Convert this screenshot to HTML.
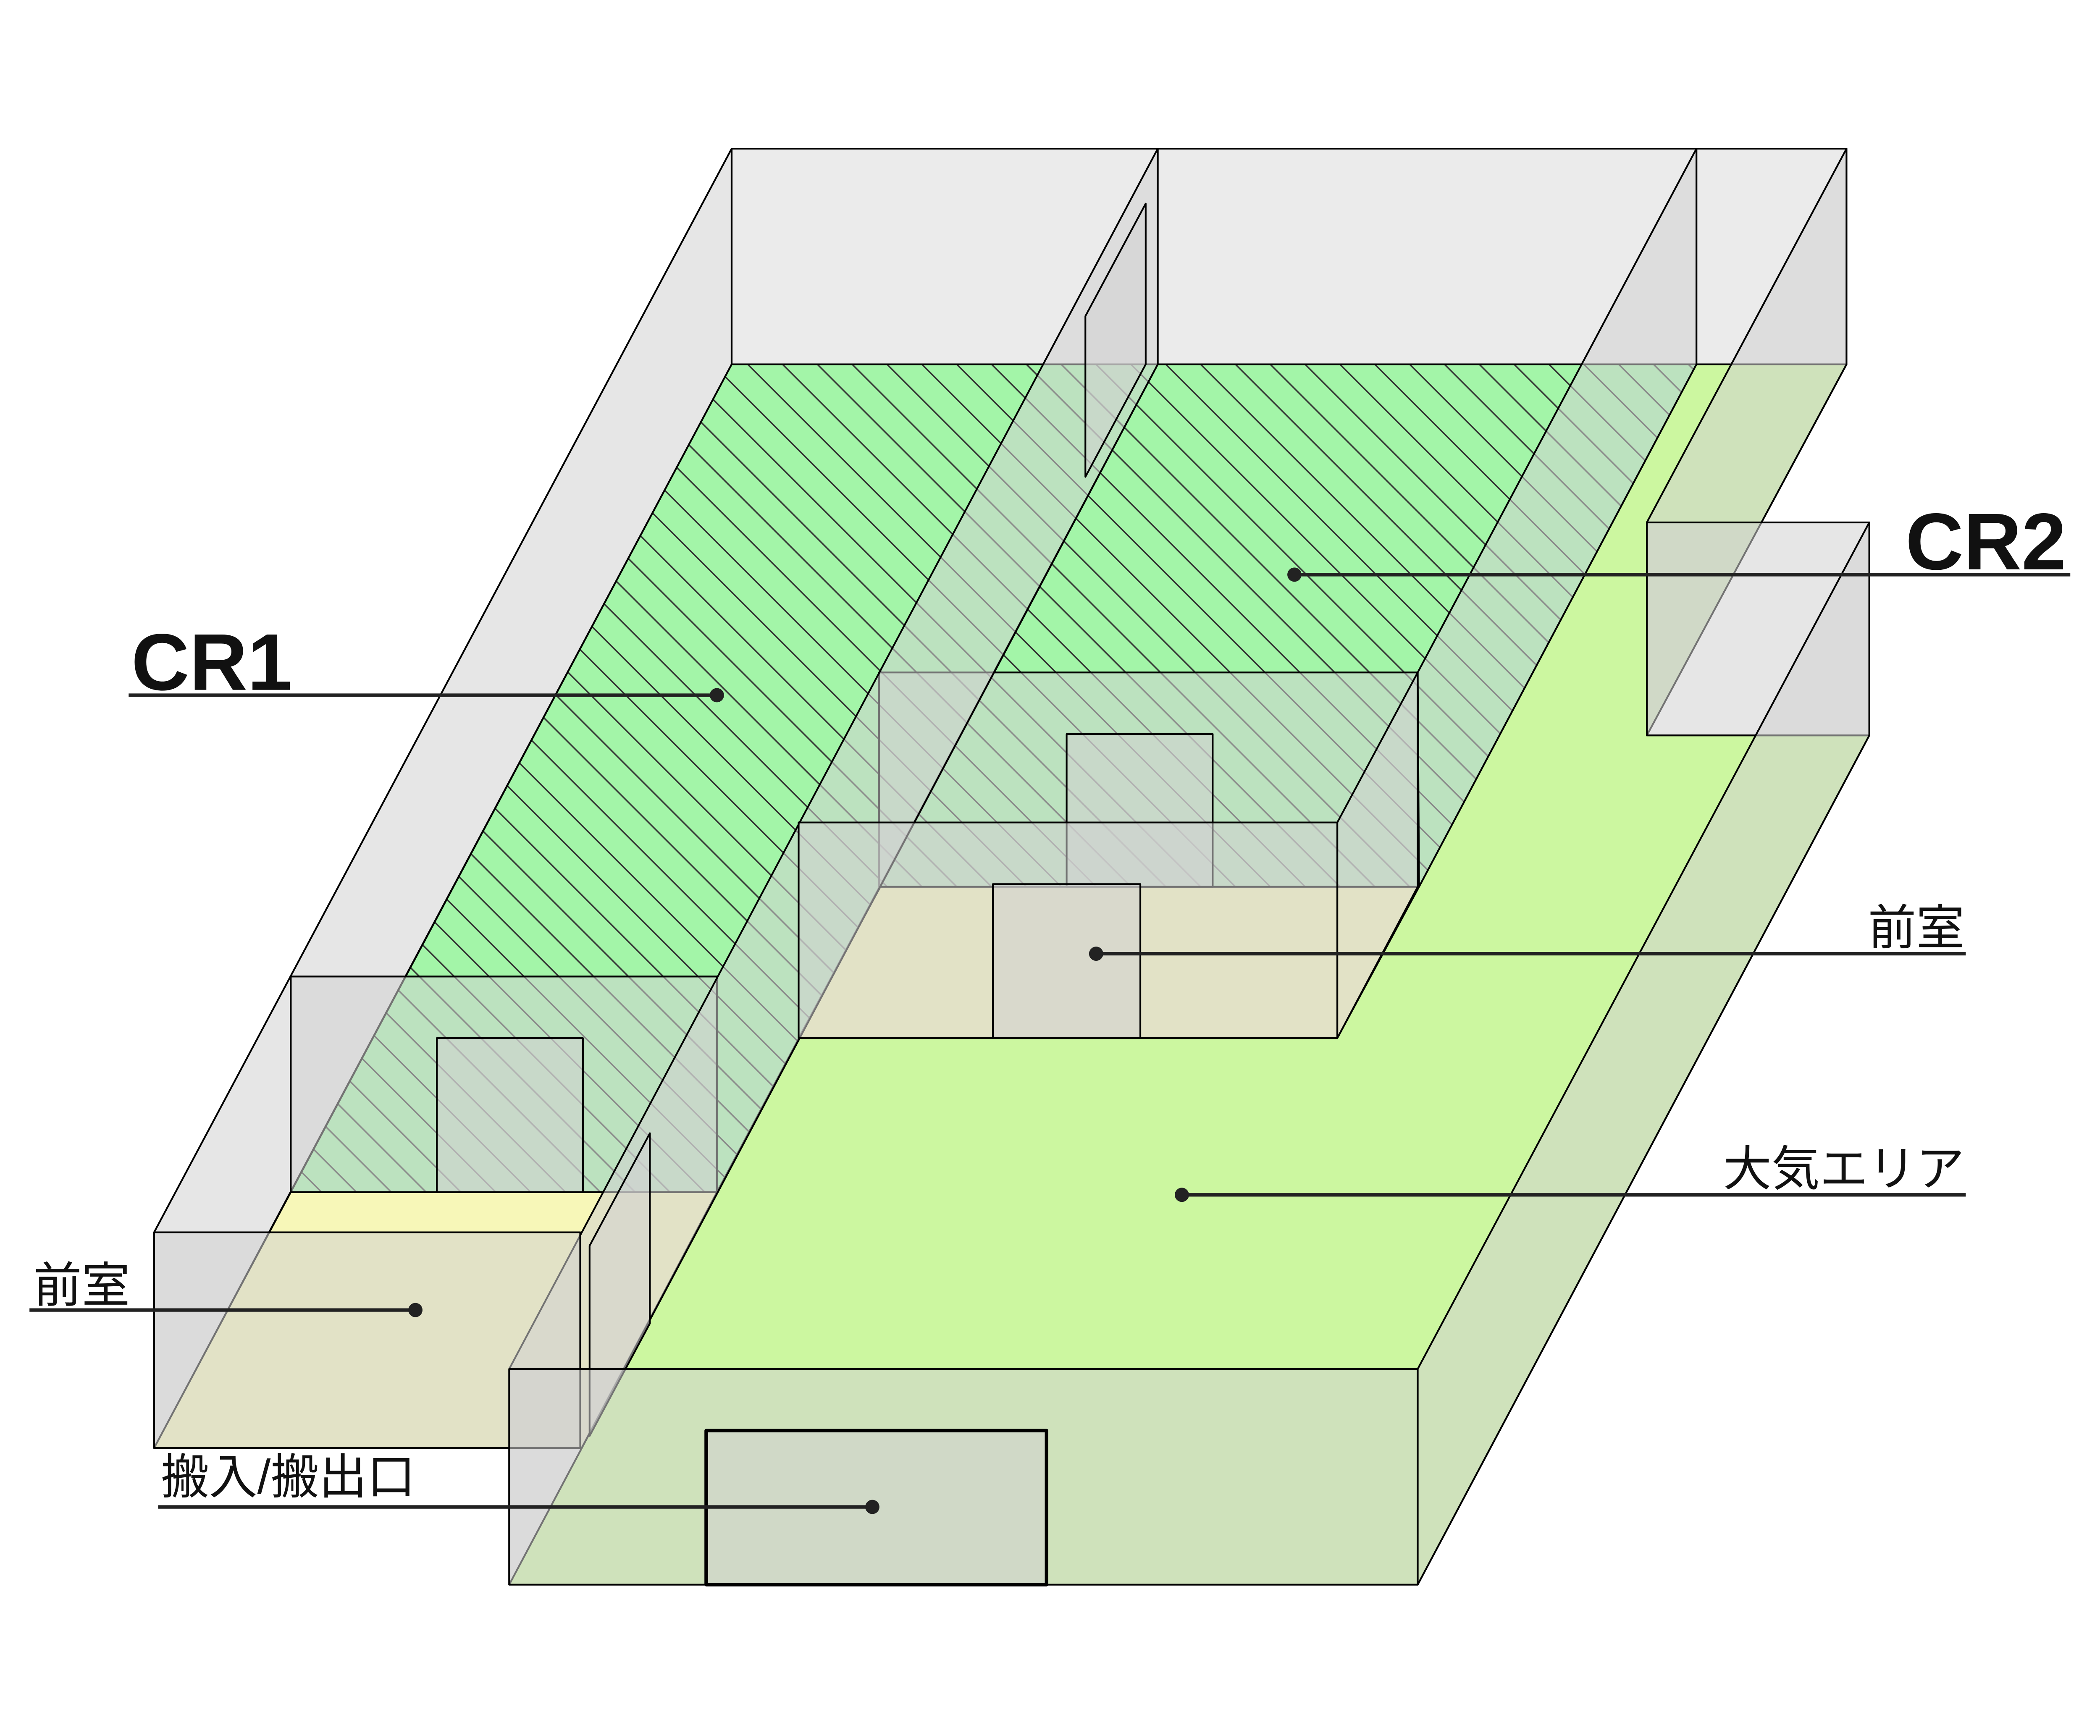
<!DOCTYPE html>
<html><head><meta charset="utf-8"><style>
html,body{margin:0;padding:0;background:#fff;}
svg{display:block;}
text{font-family:"Liberation Sans","Noto Sans CJK JP",sans-serif;fill:#111;}
</style></head><body>
<svg width="5009" height="4134" viewBox="0 0 1570 1296" preserveAspectRatio="none" xmlns="http://www.w3.org/2000/svg">
<defs>
<pattern id="h" patternUnits="userSpaceOnUse" width="26" height="26">
<rect width="26" height="26" fill="#a3f5a8"/>
<path d="M-13,-13 L39,39 M-13,13 L13,39 M13,-13 L39,13" stroke="#333" stroke-width="1.1"/>
</pattern>
</defs>
<g stroke="#000" stroke-width="1.3" stroke-linejoin="round">
<rect x="546" y="111" width="832" height="161" fill="#ebebeb"/>
<line x1="864" y1="111" x2="864" y2="272"/>
<line x1="1266" y1="111" x2="1266" y2="272"/>
<polygon points="864,272 1378,272 1229,549 1395,549 1058,1183 380,1183" fill="#ccf7a0"/>
<polygon points="546,272 864,272 535,890 217,890" fill="url(#h)"/>
<polygon points="864,272 1266,272 1059,662 657,662" fill="url(#h)"/>
<polygon points="217,890 535,890 434,1081 115,1081" fill="#f7f7b8"/>
<polygon points="657,662 1059,662 998,775 596,775" fill="#f7f7b8"/>
</g>
<g stroke="#000" stroke-width="1.3" stroke-linejoin="round" fill="rgba(210,210,210,0.55)">
<polygon points="546,111 546,272 115,1081 115,920"/>
<rect x="217" y="729" width="318" height="161"/>
<rect x="326" y="775" width="109" height="115"/>
<rect x="656" y="502" width="402" height="160"/>
<rect x="796" y="548" width="109" height="114"/>
<polygon points="1266,111 1266,272 1059,662 1058,502"/>
<polygon points="1058,502 1058,662 998,775 998,614"/>
<polygon points="1378,111 1378,272 1229,549 1229,390"/>
<polygon points="864,111 864,272 380,1183 380,1022"/>
<polygon points="855,152 855,272 810,356 810,236"/>
<polygon points="485,846 485,988 440,1072 440,930"/>
<rect x="596" y="614" width="402" height="161"/>
<rect x="741" y="660" width="110" height="115"/>
<rect x="115" y="920" width="318" height="161"/>
<rect x="1229" y="390" width="166" height="159"/>
<polygon points="1395,390 1395,549 1058,1183 1058,1022"/>
<rect x="380" y="1022" width="678" height="161"/>
<rect x="527" y="1068" width="254" height="115" stroke-width="2.6"/>
</g>
<g stroke="#222" stroke-width="2.6" fill="#222">
<line x1="96" y1="519" x2="535" y2="519"/><circle cx="535" cy="519" r="4"/>
<line x1="966" y1="429" x2="1545" y2="429"/><circle cx="966" cy="429" r="4"/>
<line x1="818" y1="712" x2="1467" y2="712"/><circle cx="818" cy="712" r="4"/>
<line x1="882" y1="892" x2="1467" y2="892"/><circle cx="882" cy="892" r="4"/>
<line x1="22" y1="978" x2="310" y2="978"/><circle cx="310" cy="978" r="4"/>
<line x1="118" y1="1125" x2="651" y2="1125"/><circle cx="651" cy="1125" r="4"/>
</g>
<text x="98" y="515" font-size="60" font-weight="bold">CR1</text>
<text x="1422" y="425" font-size="60" font-weight="bold">CR2</text>
<text x="1466" y="705" font-size="36" text-anchor="end">前室</text>
<text x="1466" y="885" font-size="36" text-anchor="end">大気エリア</text>
<text x="25" y="972" font-size="36">前室</text>
<text x="120" y="1115" font-size="36">搬入/搬出口</text>
</svg>
</body></html>
